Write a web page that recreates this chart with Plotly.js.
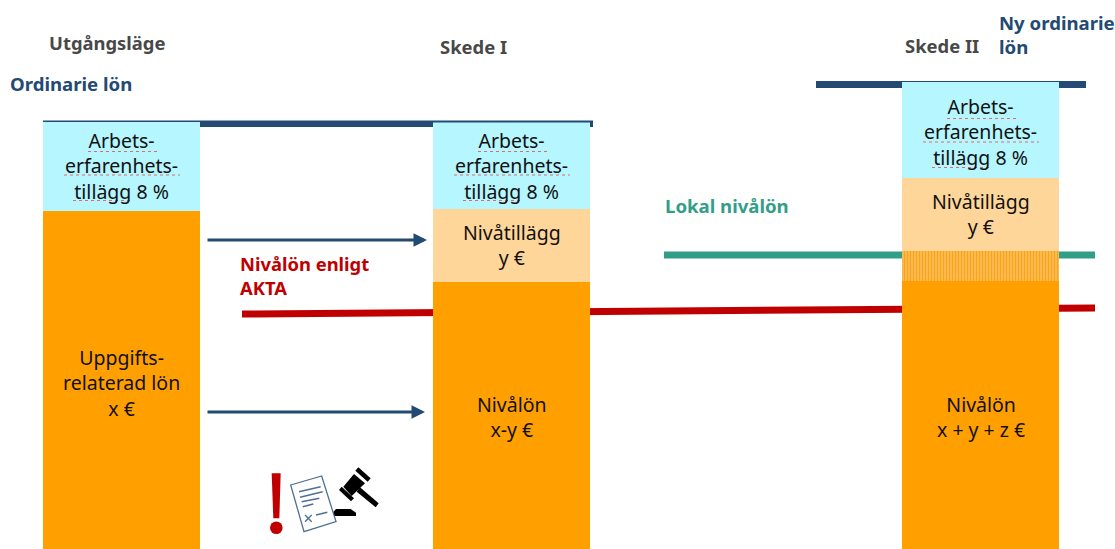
<!DOCTYPE html>
<html><head><meta charset="utf-8">
<script src="https://cdn.plot.ly/plotly-3.0.1.min.js"></script>
<style>html,body{margin:0;padding:0;background:#fff}#c{width:1115px;height:549px}</style>
</head><body><div id="c"></div>
<script>
// Values (height above the bottom edge, in picture units)
const stages = ["Utgångsläge", "Skede I", "Skede II"];
const stageX = [121.5, 511.5, 980.5];
const nivalon = [338, 267, 268];
const lokalDel = [0, 0, 30];
const nivatillagg = [0, 73, 73];
const arbetserfarenhet = [89, 87, 96];

const H = 549;
const FONT = '"Noto Sans", "Open Sans", sans-serif';
const C = {cyan:'#B5F6FF', orange:'#FFA000', light:'#FFD699', hatch:'#FDB23A', navy:'#234A73',
           green:'#339E87', red:'#C00000', gray:'#484848', ink:'#111'};
const Y = p => H - p;

function seg(name, vals, color, extra) {
  return Object.assign({type:'bar', name, x:stageX, y:vals, width:157,
    marker:Object.assign({color, line:{width:0}}, extra||{}), hoverinfo:'name+y'});
}
const traces = [
  seg('Nivålön', nivalon, C.orange),
  seg('Lokal nivålön', lokalDel, C.hatch, {pattern:{shape:'|', fgcolor:'#F7A51F', bgcolor:'#FFBE55', size:3, solidity:0.45}}),
  seg('Nivåtillägg', nivatillagg, C.light),
  seg('Arbetserfarenhetstillägg', arbetserfarenhet, C.cyan)
];

const line = (x0,p0,x1,p1,color,width,layer,dash) => ({type:'line',xref:'x',yref:'y',x0,x1,y0:Y(p0),y1:Y(p1),
  layer:layer||'below',line:{color,width,dash:dash||'solid'}});
const rect = (x0,p0,x1,p1,color) => ({type:'rect',xref:'x',yref:'y',x0,x1,y0:Y(p0),y1:Y(p1),layer:'above',fillcolor:color,line:{width:0}});
const path = (pts,fill,stroke,w) => ({type:'path',xref:'x',yref:'y',layer:'above',
  path:'M'+pts.map(q=>q[0]+','+Y(q[1])).join('L')+'Z',fillcolor:fill||'rgba(0,0,0,0)',line:{color:stroke||'rgba(0,0,0,0)',width:w||0}});
// icon outline helper: coordinates measured in a 3x crop anchored at (230,460)
const I = pts => pts.map(q=>[230+q[0]/3,460+q[1]/3]);
const iconLine = (a,b,c,d,w) => line(230+a/3,460+b/3,230+c/3,460+d/3,'#4F6F93',w||1.5,'above');

const squiggle = (x0,x1,p) => line(x0,p,x1,p,'#E06A6A',1,'above','dot');

const shapes = [
  // reference lines
  line(664,255,1095,255,C.green,7),
  line(242,314,1095,308,C.red,7),
  rect(43,120.5,200,122,C.navy),
  rect(200,120.5,433,127,C.navy),
  rect(433,120.5,590,122.5,C.navy),
  rect(590,120.5,593,127,C.navy),
  rect(816,81,902,88,C.navy),
  rect(1059,81,1086,88,C.navy),
  rect(902,81,1059,82,C.navy),
  // spell-check squiggles
  squiggle(88,157,151.5), squiggle(64,180,175), squiggle(73,132,200.5),
  squiggle(478,547,151.5), squiggle(454,570,175), squiggle(463,522,200.5),
  squiggle(947,1016,118.5), squiggle(923,1039,142), squiggle(932,991,167.5),
  // exclamation mark
  path(I([[125,40],[152,40],[148,175],[130,175]]),C.red),
  {type:'circle',xref:'x',yref:'y',layer:'above',x0:270,x1:282.6,y0:Y(534),y1:Y(521.4),fillcolor:C.red,line:{width:0}},
  // gavel base sits behind the document
  path(I([[318,147],[362,147],[378,158],[378,168],[308,168],[308,158]]),'#000'),
  // document
  path(I([[182,75],[275,48],[318,185],[222,215]]),'#fff','#4F6F93',1.3),
  iconLine(207,95,272,80), iconLine(210,112,278,95), iconLine(215,125,268,115), iconLine(218,140,250,132),
  iconLine(225,165,245,185,1.3), iconLine(245,165,225,185,1.3), iconLine(258,165,292,157),
  // gavel head and handle
  path(I([[385,22],[422,55],[413,65],[376,32]]),'#000'),
  path(I([[335,80],[372,115],[363,124],[327,90]]),'#000'),
  path(I([[372,42],[405,70],[365,108],[340,80]]),'#000'),
  path(I([[390,82],[446,130],[437,142],[380,95]]),'#000')
];

const txt = (x,p,text,color,size,bold,align) => ({xref:'x',yref:'y',x,y:Y(p),text:bold?'<b>'+text+'</b>':text,showarrow:false,
  xanchor:align||'center',yanchor:'middle',align:align||'center',font:{family:FONT,size,color}});
const arrow = (x0,x1,p) => ({xref:'x',yref:'y',axref:'x',ayref:'y',x:x1,y:Y(p),ax:x0,ay:Y(p),text:'',showarrow:true,
  arrowhead:2,arrowsize:0.9,arrowwidth:3,arrowcolor:C.navy,standoff:0,startstandoff:0});

const block = (x,p,lines) => txt(x,p,lines.join('<br>'),C.ink,19.5);
const annotations = [
  txt(106.5,42,stages[0],C.gray,18.4,true),
  txt(473,46,stages[1],C.gray,18.4,true),
  txt(942,45,stages[2],C.gray,18.4,true),
  txt(8,83,'Ordinarie lön',C.navy,18.6,true,'left'),
  txt(997,34,'Ny ordinarie<br>lön',C.navy,18.6,true,'left'),
  txt(663,205,'Lokal nivålön',C.green,18.6,true,'left'),
  txt(238,275,'Nivålön enligt<br>AKTA',C.red,18.4,true,'left'),
  arrow(206,427,240), arrow(206,425,412),
  block(121.5,165.5,['Arbets-','erfarenhets-','tillägg 8 %']),
  block(511.5,165.5,['Arbets-','erfarenhets-','tillägg 8 %']),
  block(980.5,132,['Arbets-','erfarenhets-','tillägg 8 %']),
  block(121.5,383,['Uppgifts-','relaterad lön','x €']),
  block(511.5,244.5,['Nivåtillägg','y €']),
  block(511.5,417,['Nivålön','x-y €']),
  block(980.5,214,['Nivåtillägg','y €']),
  block(980.5,416.5,['Nivålön','x + y + z €'])
];

const axis = r => ({range:r,visible:false,fixedrange:true,showgrid:false,zeroline:false});
Plotly.newPlot('c',traces,{
  width:1115,height:549,margin:{l:0,r:0,t:0,b:0},barmode:'stack',showlegend:false,
  paper_bgcolor:'#fff',plot_bgcolor:'#fff',
  xaxis:axis([0,1115]),yaxis:axis([0,H]),shapes,annotations
},{displayModeBar:false,staticPlot:true});
</script></body></html>
